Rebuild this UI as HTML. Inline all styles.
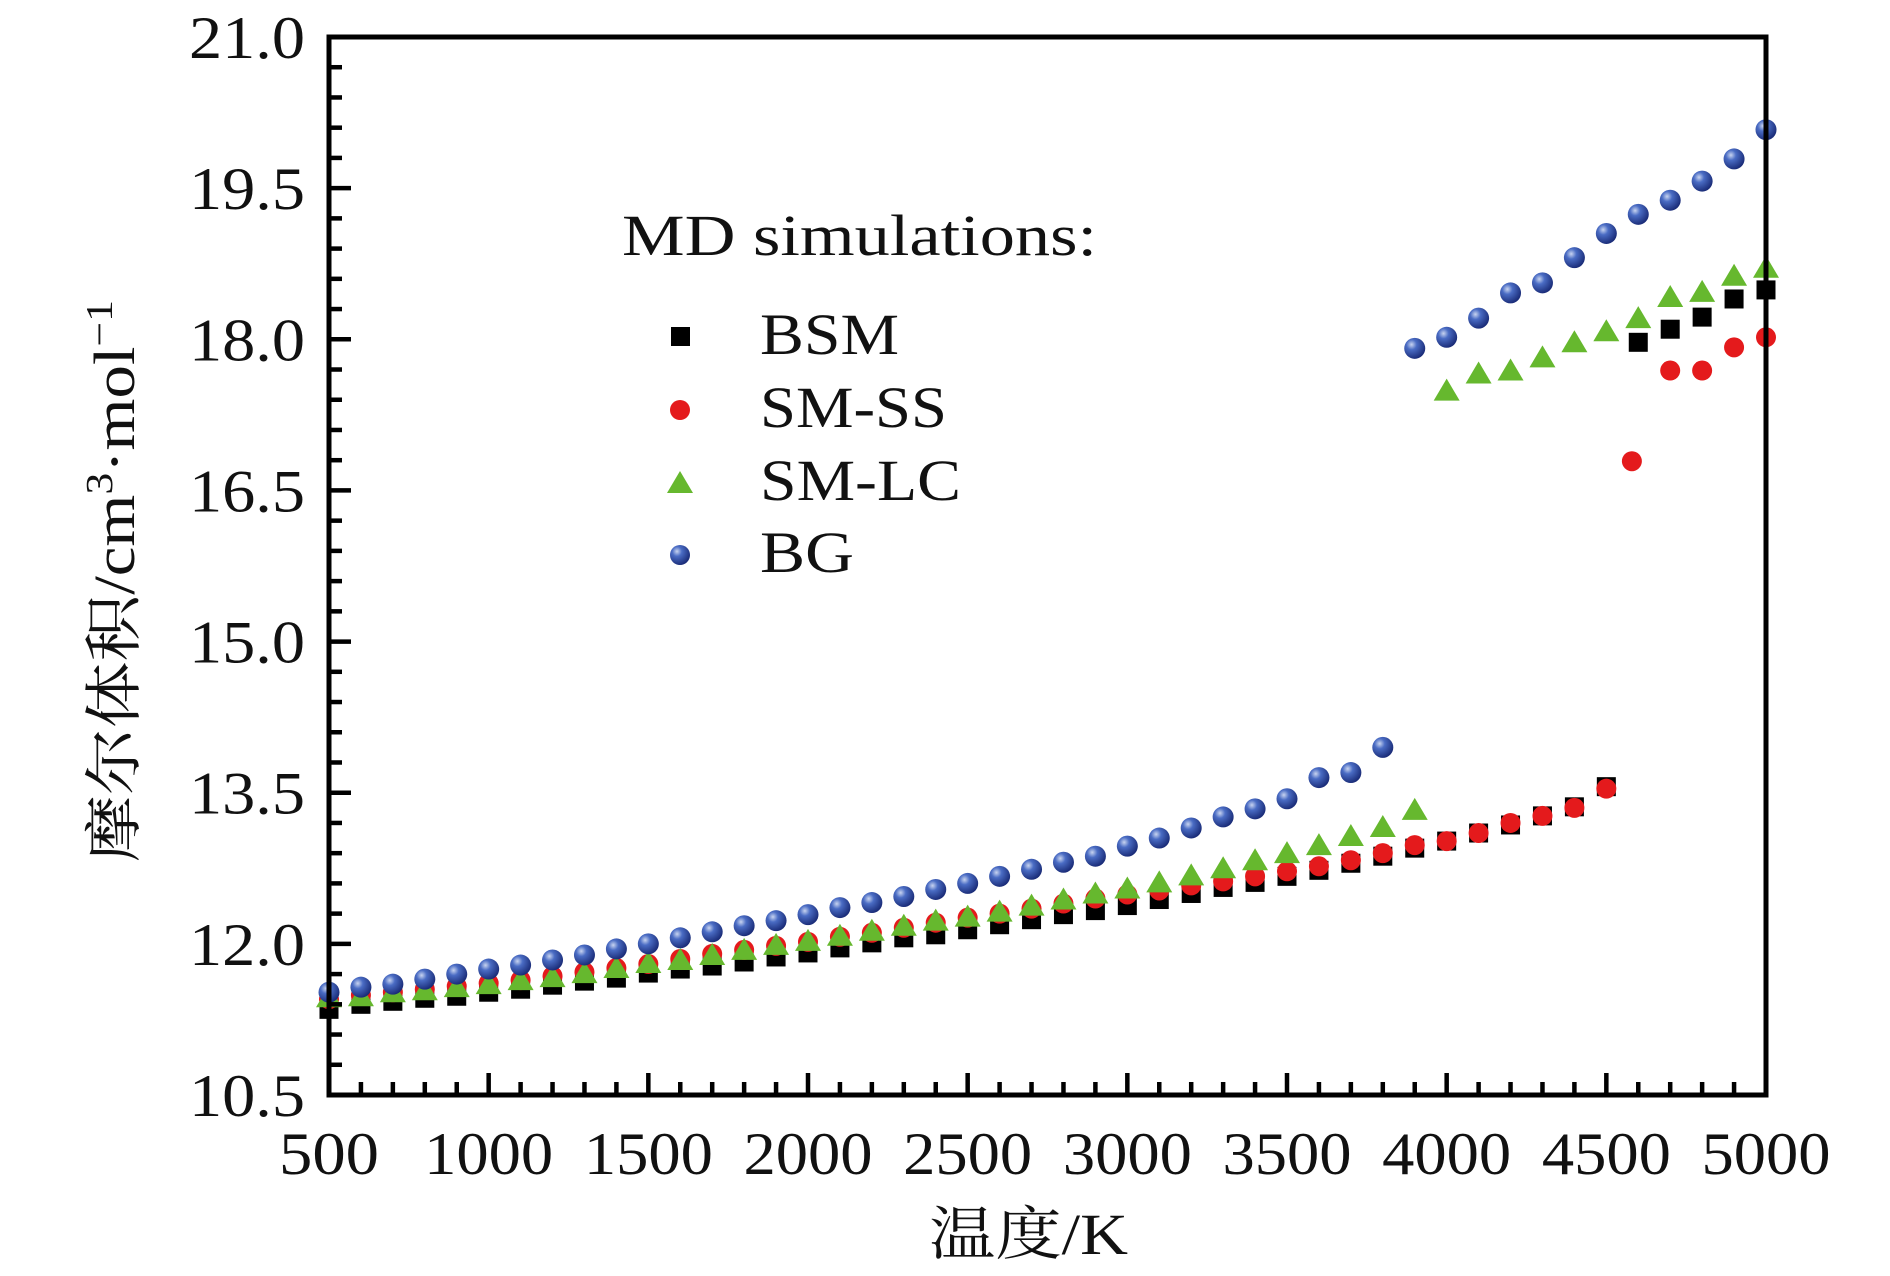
<!DOCTYPE html>
<html><head><meta charset="utf-8"><style>
html,body{margin:0;padding:0;background:#fff}
svg{display:block}
text{font-family:"Liberation Serif","Noto Serif CJK SC",serif;fill:#111}
</style></head><body>
<svg id="chart" width="1890" height="1276" viewBox="0 0 1890 1276">
<defs>
<radialGradient id="bgGrad" cx="0.35" cy="0.32" r="0.7">
<stop offset="0" stop-color="#c8d4f0"/><stop offset="0.35" stop-color="#4a6cc4"/><stop offset="1" stop-color="#1a2c78"/>
</radialGradient>
</defs>
<g id="marks"></g>
<g id="axes"></g>
<text x="929" y="1254" font-size="58" textLength="199" lengthAdjust="spacingAndGlyphs">温度/K</text>
<text transform="translate(134,862) rotate(-90)" font-size="58" textLength="562" lengthAdjust="spacingAndGlyphs">摩尔体积/cm<tspan font-size="38" dy="-22">3</tspan><tspan dy="22">·mol</tspan><tspan font-size="38" dy="-22">−1</tspan></text>
<g>
<text x="622" y="255" font-size="58" textLength="475" lengthAdjust="spacingAndGlyphs">MD simulations:</text>
<rect x="671" y="327" width="19" height="19" fill="#000"/>
<text x="760" y="354" font-size="58" textLength="139" lengthAdjust="spacingAndGlyphs">BSM</text>
<circle cx="680" cy="410" r="10" fill="#e41a1c"/>
<text x="760" y="427" font-size="58" textLength="187" lengthAdjust="spacingAndGlyphs">SM-SS</text>
<polygon points="680,471 693,493 667,493" fill="#66b82e"/>
<text x="760" y="500" font-size="58" textLength="201" lengthAdjust="spacingAndGlyphs">SM-LC</text>
<circle cx="680" cy="555" r="10" fill="url(#bgGrad)"/>
<text x="760" y="572" font-size="58" textLength="94" lengthAdjust="spacingAndGlyphs">BG</text>
</g>
</svg>
<script>
const xTicks=[500,1000,1500,2000,2500,3000,3500,4000,4500,5000];
const yTicks=[10.5,12.0,13.5,15.0,16.5,18.0,19.5,21.0];
const yTickLabels=["10.5","12.0","13.5","15.0","16.5","18.0","19.5","21.0"];
const bsmX=[500,600,700,800,900,1000,1100,1200,1300,1400,1500,1600,1700,1800,1900,2000,2100,2200,2300,2400,2500,2600,2700,2800,2900,3000,3100,3200,3300,3400,3500,3600,3700,3800,3900,4000,4100,4200,4300,4400,4500,4600,4700,4800,4900,5000];
const bsmY=[11.35,11.40,11.43,11.46,11.48,11.52,11.55,11.59,11.63,11.66,11.71,11.75,11.78,11.82,11.87,11.91,11.96,12.01,12.06,12.09,12.14,12.19,12.24,12.29,12.33,12.38,12.44,12.50,12.56,12.61,12.67,12.73,12.80,12.87,12.95,13.02,13.10,13.18,13.27,13.36,13.56,17.97,18.10,18.22,18.40,18.49];
const smssX=[500,600,700,800,900,1000,1100,1200,1300,1400,1500,1600,1700,1800,1900,2000,2100,2200,2300,2400,2500,2600,2700,2800,2900,3000,3100,3200,3300,3400,3500,3600,3700,3800,3900,4000,4100,4200,4300,4400,4500,4580,4700,4800,4900,5000];
const smssY=[11.45,11.49,11.52,11.55,11.58,11.61,11.64,11.68,11.72,11.76,11.80,11.85,11.90,11.94,11.98,12.02,12.07,12.11,12.16,12.21,12.26,12.30,12.35,12.40,12.45,12.49,12.53,12.58,12.62,12.67,12.72,12.77,12.83,12.90,12.98,13.02,13.10,13.20,13.27,13.35,13.54,16.79,17.69,17.69,17.92,18.02];
const smlcX=[500,600,700,800,900,1000,1100,1200,1300,1400,1500,1600,1700,1800,1900,2000,2100,2200,2300,2400,2500,2600,2700,2800,2900,3000,3100,3200,3300,3400,3500,3600,3700,3800,3900,4000,4100,4200,4300,4400,4500,4600,4700,4800,4900,5000];
const smlcY=[11.47,11.48,11.52,11.54,11.57,11.60,11.64,11.67,11.71,11.76,11.81,11.84,11.89,11.94,11.99,12.03,12.08,12.13,12.18,12.23,12.27,12.32,12.38,12.44,12.50,12.55,12.61,12.68,12.75,12.83,12.90,12.98,13.07,13.16,13.33,17.49,17.66,17.69,17.82,17.97,18.08,18.21,18.42,18.47,18.63,18.71];
const bgX=[500,600,700,800,900,1000,1100,1200,1300,1400,1500,1600,1700,1800,1900,2000,2100,2200,2300,2400,2500,2600,2700,2800,2900,3000,3100,3200,3300,3400,3500,3600,3700,3800,3900,4000,4100,4200,4300,4400,4500,4600,4700,4800,4900,5000];
const bgY=[11.52,11.57,11.60,11.65,11.70,11.75,11.79,11.84,11.89,11.95,12.00,12.06,12.12,12.18,12.23,12.29,12.36,12.41,12.47,12.54,12.60,12.67,12.74,12.81,12.87,12.97,13.05,13.15,13.26,13.34,13.44,13.65,13.70,13.95,17.91,18.02,18.21,18.46,18.56,18.81,19.05,19.24,19.38,19.57,19.79,20.08];

const L=329,R=1766,T=37,B=1095;
const sx=v=>L+(v-500)/4500*(R-L);
const sy=v=>B-(v-10.5)/10.5*(B-T);
const NS="http://www.w3.org/2000/svg";
const marks=document.getElementById('marks');
const axes=document.getElementById('axes');
function mk(tag,attrs,parent){const e=document.createElementNS(NS,tag);for(const k in attrs)e.setAttribute(k,attrs[k]);parent.appendChild(e);return e;}

bsmX.forEach((x,i)=>{const e=mk('rect',{x:sx(x)-9.5,y:sy(bsmY[i])-9.5,width:19,height:19,fill:'#000'},marks);

});
smssX.forEach((x,i)=>{const e=mk('circle',{cx:sx(x),cy:sy(smssY[i]),r:10,fill:'#e41a1c'},marks);

});
smlcX.forEach((x,i)=>{const cx=sx(x),cy=sy(smlcY[i]);const e=mk('polygon',{points:`${cx},${cy-12} ${cx+13},${cy+10} ${cx-13},${cy+10}`,fill:'#66b82e'},marks);

});
bgX.forEach((x,i)=>{const e=mk('circle',{cx:sx(x),cy:sy(bgY[i]),r:10.5,fill:'url(#bgGrad)'},marks);

});

const frame=mk('rect',{x:L,y:T,width:R-L,height:B-T,fill:'none',stroke:'#000','stroke-width':5},axes);


for(let v=500;v<=5000;v+=100){const x=sx(v);const major=(v%500===0);const len=major?22:13;
mk('line',{x1:x,y1:B,x2:x,y2:B-len,stroke:'#000','stroke-width':4.5},axes);}
for(let k=0;k<=35;k++){const v=10.5+k*0.3;const y=sy(v);const major=(k%5===0);const len=major?22:13;
mk('line',{x1:L,y1:y,x2:L+len,y2:y,stroke:'#000','stroke-width':4.5},axes);}
xTicks.forEach(v=>{const s=String(v);const w=s.length===3?100:129;const t=mk('text',{x:sx(v)-w/2,y:1174,'font-size':60,textLength:w,lengthAdjust:'spacingAndGlyphs'},axes);t.textContent=s;

});
yTicks.forEach((v,i)=>{const t=mk('text',{x:305-116,y:sy(v)+21,'font-size':60,textLength:116,lengthAdjust:'spacingAndGlyphs'},axes);t.textContent=yTickLabels[i];

});
</script>
</body></html>
